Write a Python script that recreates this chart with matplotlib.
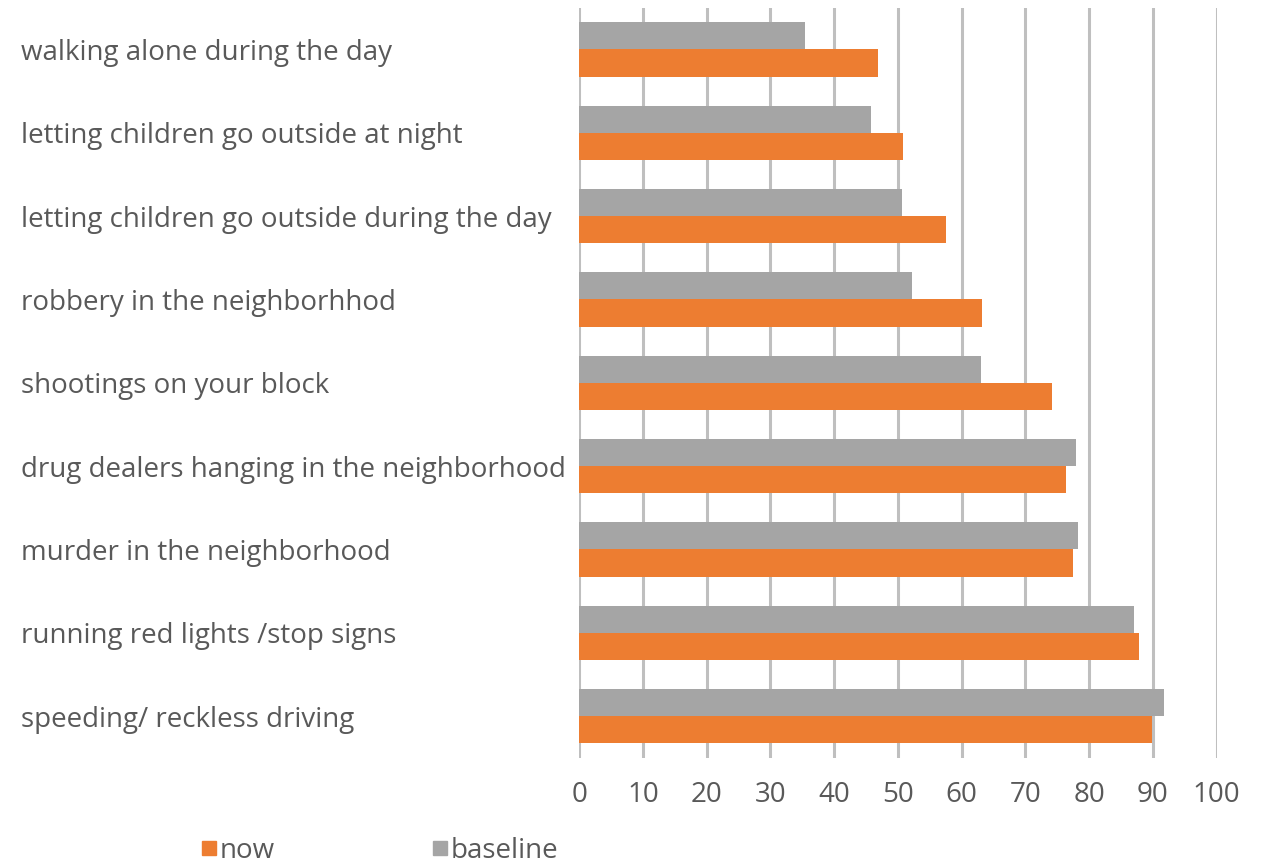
import numpy as np
import matplotlib.pyplot as plt
from matplotlib.lines import Line2D

categories = [
    "walking alone during the day",
    "letting children go outside at night",
    "letting children go outside during the day",
    "robbery in the neighborhhod",
    "shootings on your block",
    "drug dealers hanging in the neighborhood",
    "murder in the neighborhood",
    "running red lights /stop signs",
    "speeding/ reckless driving",
]
baseline = [35.5, 45.8, 50.6, 52.2, 63.0, 78.0, 78.3, 87.1, 91.8]
now = [46.8, 50.8, 57.5, 63.2, 74.2, 76.3, 77.4, 87.9, 89.9]
x_ticks = [0, 10, 20, 30, 40, 50, 60, 70, 80, 90, 100]

orange = "#ED7D31"
gray = "#A5A5A5"
text_color = "#595959"

plt.rcParams['font.family'] = ['Open Sans', 'DejaVu Sans']

fig = plt.figure(figsize=(12.66, 8.68), dpi=100)
ax = fig.add_axes([0.4575, 0.127, 0.5035, 0.864])

y = np.arange(len(categories))
h = 0.325
ax.barh(y - h / 2, baseline, height=h, color=gray, zorder=3)
ax.barh(y + h / 2, now, height=h, color=orange, zorder=3)

ax.set_xlim(0, 100)
ax.set_ylim(len(categories) - 0.5, -0.5)
ax.set_xticks(x_ticks)
ax.set_xticklabels([str(t) for t in x_ticks])
ax.set_yticks(y)
ax.set_yticklabels(categories)

ax.grid(axis='x', color="#BFBFBF", linewidth=2.2, zorder=0)
for s in ax.spines.values():
    s.set_visible(False)

ax.tick_params(axis='x', length=0, pad=17, labelsize=20, labelcolor=text_color)
ax.tick_params(axis='y', length=0, pad=402, labelsize=20, labelcolor=text_color)
for lbl in ax.get_yticklabels():
    lbl.set_horizontalalignment('left')

handles = [
    Line2D([], [], marker='s', linestyle='none', markersize=9.5, color=orange),
    Line2D([], [], marker='s', linestyle='none', markersize=9.5, color=gray),
]
fig.legend(handles, ["now", "baseline"], loc='lower center', bbox_to_anchor=(0.299, -0.025),
           ncol=2, frameon=False, fontsize=20, labelcolor=text_color,
           handletextpad=0.0, columnspacing=5.6, handlelength=0.75)

fig.savefig("out.png", dpi=100)
